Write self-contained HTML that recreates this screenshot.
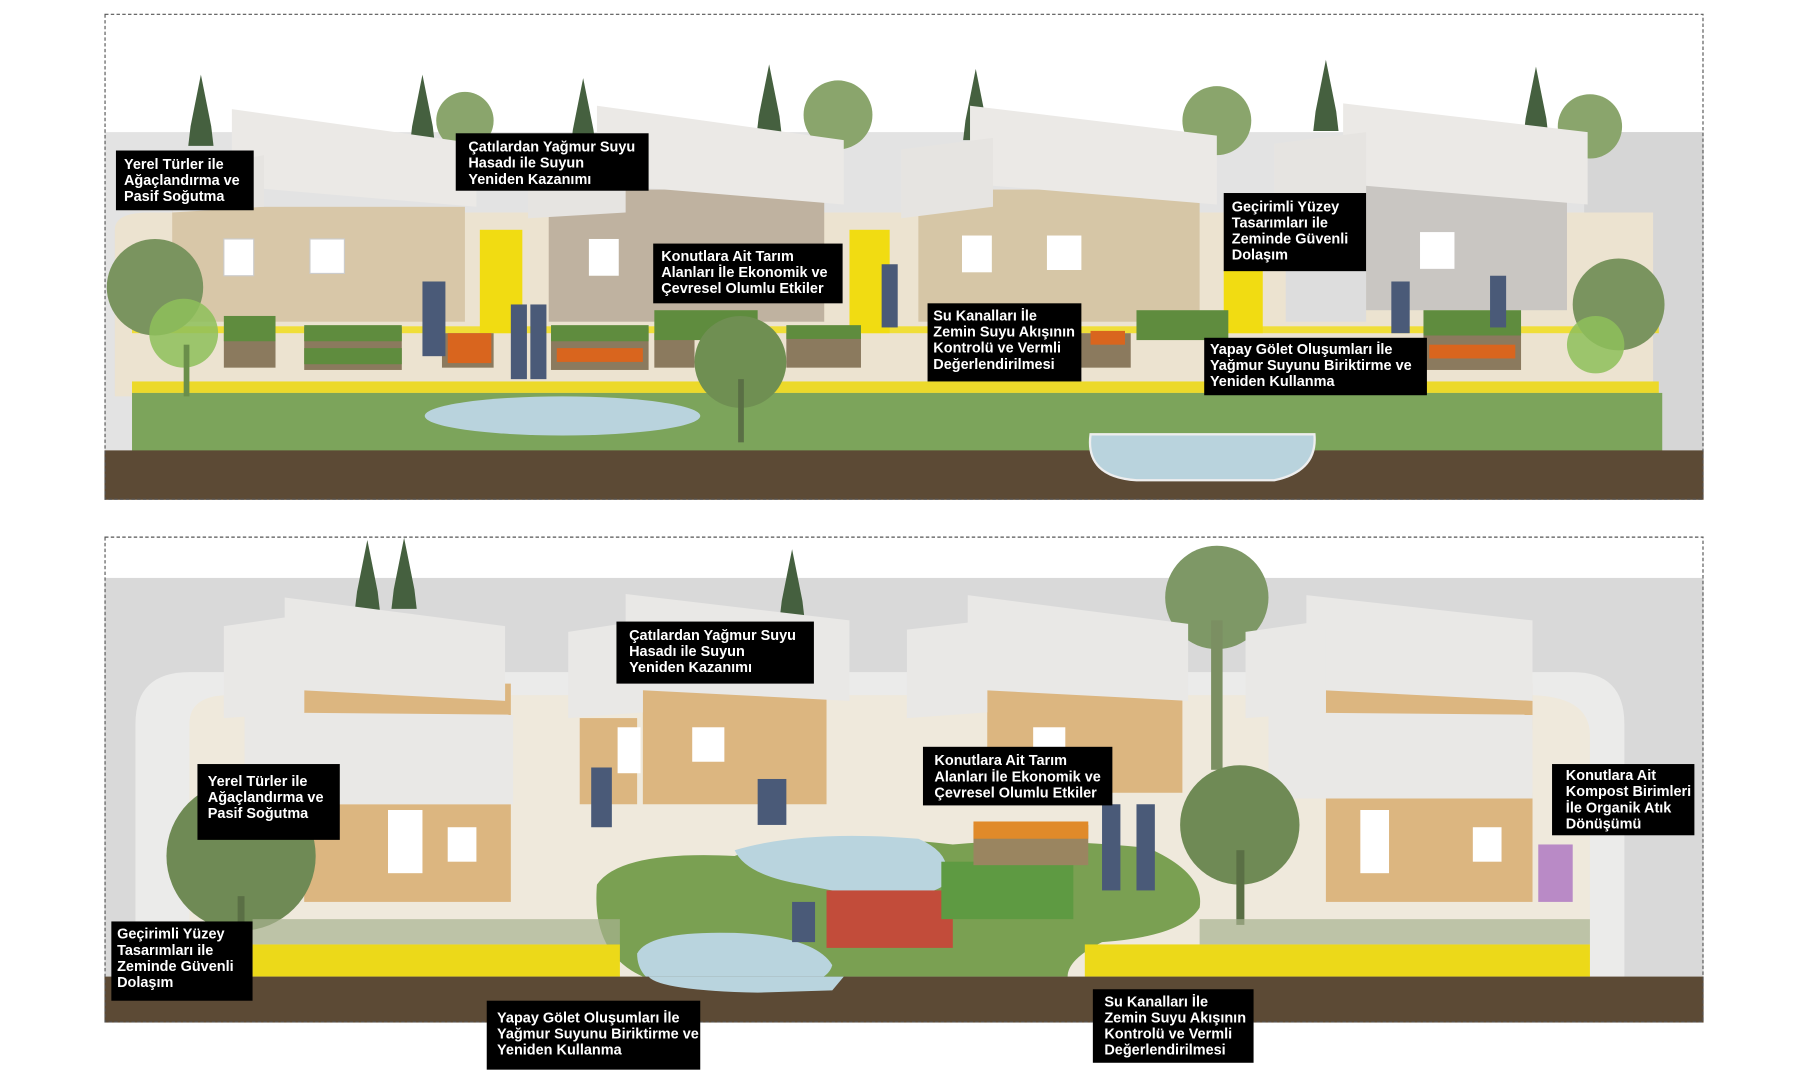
<!DOCTYPE html>
<html><head><meta charset="utf-8"><style>
html,body{margin:0;padding:0;background:#fff;width:1800px;height:1080px;overflow:hidden}
svg{display:block}
.lb{font-family:"Liberation Sans Narrow","Liberation Sans","DejaVu Sans Condensed",sans-serif;font-weight:bold;font-size:12.6px;fill:#fff}
</style></head><body>
<svg width="1800" height="1080" viewBox="0 0 1568 940" preserveAspectRatio="none" xmlns="http://www.w3.org/2000/svg">
<defs>
<g id="cyp"><path d="M0,0 L-9,45 L-11,62 L11,62 L9,45 Z" fill="#45603f"/></g>
</defs>
<!-- ===== TOP PANEL ===== -->
<rect x="91" y="12" width="1393" height="423" fill="#fff"/>
<rect x="91" y="115" width="1393" height="280" fill="#e3e3e3"/>
<rect x="1380" y="115" width="104" height="280" fill="#d6d6d6"/>
<!-- back trees -->
<circle cx="405" cy="105" r="25" fill="#8aa56c"/><circle cx="730" cy="100" r="30" fill="#8aa56c"/>
<circle cx="1060" cy="105" r="30" fill="#8aa56c"/><circle cx="1385" cy="110" r="28" fill="#8aa56c"/>
<use href="#cyp" x="175" y="65"/><use href="#cyp" x="368" y="65"/><use href="#cyp" x="508" y="68"/>
<use href="#cyp" x="670" y="56"/><use href="#cyp" x="850" y="60"/><use href="#cyp" x="1155" y="52"/><use href="#cyp" x="1338" y="58"/>
<!-- paving -->
<path d="M100,200 Q100,185 130,185 L1440,185 L1440,345 L100,345 Z" fill="#ece3d0"/>
<!-- houses walls -->
<rect x="150" y="180" width="255" height="100" fill="#d8c7a8"/>
<rect x="478" y="165" width="240" height="115" fill="#bfb2a0"/>
<rect x="800" y="165" width="245" height="115" fill="#d6c6a6"/>
<rect x="1190" y="160" width="175" height="110" fill="#c9c6c2"/>
<rect x="1120" y="200" width="70" height="80" fill="#ddd"/>
<!-- windows -->
<rect x="195" y="208" width="26" height="32" fill="#fff" stroke="#ccc"/><rect x="270" y="208" width="30" height="30" fill="#fff" stroke="#ccc"/>
<rect x="513" y="208" width="26" height="32" fill="#fff"/><rect x="838" y="205" width="26" height="32" fill="#fff"/>
<rect x="912" y="205" width="30" height="30" fill="#fff"/><rect x="1237" y="202" width="30" height="32" fill="#fff"/>
<!-- roofs -->
<path d="M202,95 L415,125 L415,180 L202,162 Z" fill="#ebe9e6"/>
<path d="M150,150 L230,135 L230,180 L150,185 Z" fill="#e6e4e1"/>
<path d="M520,92 L735,122 L735,178 L520,160 Z" fill="#ebe9e6"/>
<path d="M460,150 L545,140 L545,185 L460,190 Z" fill="#e6e4e1"/>
<path d="M845,92 L1060,118 L1060,178 L845,160 Z" fill="#ebe9e6"/>
<path d="M785,130 L865,120 L865,180 L785,190 Z" fill="#e6e4e1"/>
<path d="M1170,90 L1383,115 L1383,178 L1170,160 Z" fill="#ebe9e6"/>
<path d="M1110,125 L1190,115 L1190,175 L1110,185 Z" fill="#e6e4e1"/>
<!-- yellow strips -->
<rect x="418" y="200" width="37" height="90" fill="#f1dc12"/><rect x="740" y="200" width="35" height="90" fill="#f1dc12"/>
<rect x="1066" y="235" width="34" height="55" fill="#f1dc12"/>
<rect x="115" y="284" width="1330" height="6" fill="#f1dc12" opacity=".8"/>
<!-- beds -->
<g fill="#8b7a5e">
<rect x="195" y="290" width="45" height="30"/><rect x="265" y="285" width="85" height="37"/><rect x="385" y="290" width="45" height="30"/>
<rect x="480" y="285" width="85" height="37"/><rect x="570" y="290" width="35" height="30"/><rect x="685" y="290" width="65" height="30"/>
<rect x="940" y="290" width="45" height="30"/><rect x="1240" y="285" width="85" height="37"/>
</g>
<g fill="#5f8c3e">
<rect x="195" y="275" width="45" height="22"/><rect x="265" y="283" width="85" height="14"/><rect x="265" y="303" width="85" height="14"/>
<rect x="480" y="283" width="85" height="14"/><rect x="570" y="270" width="90" height="26"/><rect x="685" y="283" width="65" height="12"/>
<rect x="990" y="270" width="80" height="26"/><rect x="1240" y="270" width="85" height="22"/>
</g>
<g fill="#d9651e"><rect x="390" y="290" width="38" height="26"/><rect x="485" y="303" width="75" height="12"/><rect x="1245" y="300" width="75" height="12"/><rect x="950" y="288" width="30" height="12"/></g>
<!-- people -->
<g fill="#4a5a78"><rect x="368" y="245" width="20" height="65"/><rect x="445" y="265" width="14" height="65"/><rect x="462" y="265" width="14" height="65"/><rect x="768" y="230" width="14" height="55"/><rect x="1212" y="245" width="16" height="45"/><rect x="1298" y="240" width="14" height="45"/><rect x="895" y="355" width="20" height="28"/></g>
<!-- yellow bottom line & lawn -->
<rect x="115" y="332" width="1330" height="10" fill="#ecd92a"/>
<rect x="115" y="342" width="1333" height="52" fill="#7ca45b"/>
<ellipse cx="490" cy="362" rx="120" ry="17" fill="#b9d3dd"/>
<!-- trees -->
<circle cx="135" cy="250" r="42" fill="#7a945f"/><circle cx="160" cy="290" r="30" fill="#8ec05a" opacity=".85"/>
<rect x="160" y="300" width="5" height="45" fill="#6a8e4a"/>
<circle cx="645" cy="315" r="40" fill="#6f8f52"/><rect x="643" y="330" width="5" height="55" fill="#5a6f45"/>
<circle cx="1410" cy="265" r="40" fill="#7a945f"/><circle cx="1390" cy="300" r="25" fill="#8ec05a" opacity=".85"/>
<!-- ground -->
<rect x="91" y="392" width="1393" height="43" fill="#5c4a35"/>
<path d="M950,378 Q945,415 990,418 L1110,418 Q1148,410 1145,378 Z" fill="#b9d3dd" stroke="#eee" stroke-width="2"/>
<rect x="91.5" y="12.5" width="1392" height="422" fill="none" stroke="#555" stroke-dasharray="3,2"/>

<!-- ===== BOTTOM PANEL ===== -->
<rect x="91" y="467" width="1393" height="423" fill="#fff"/>
<rect x="91" y="503" width="1393" height="350" fill="#d9d9d9"/>
<use href="#cyp" x="320" y="470"/><use href="#cyp" x="352" y="468"/><use href="#cyp" x="690" y="478"/>
<path d="M118,850 L118,630 Q118,585 165,585 L1370,585 Q1415,585 1415,630 L1415,850 Z" fill="#ebebea"/>
<path d="M165,850 L165,630 Q165,605 200,605 L1330,605 Q1385,605 1385,640 L1385,850 Z" fill="#efe9dc"/>
<!-- big tree -->
<circle cx="1060" cy="520" r="45" fill="#7e9866"/><rect x="1055" y="540" width="10" height="130" fill="#7b8f62"/>
<!-- walls -->
<g fill="#dcb680">
<rect x="265" y="595" width="180" height="40"/><rect x="265" y="700" width="180" height="85"/>
<rect x="560" y="600" width="160" height="100"/><rect x="860" y="600" width="170" height="90"/>
<rect x="1155" y="595" width="180" height="40"/><rect x="1155" y="690" width="180" height="95"/>
</g>
<rect x="505" y="625" width="50" height="75" fill="#dcb680"/>
<g fill="#fff"><rect x="338" y="705" width="30" height="55"/><rect x="390" y="720" width="25" height="30"/><rect x="603" y="633" width="28" height="30"/><rect x="538" y="633" width="20" height="40"/><rect x="900" y="633" width="28" height="20"/><rect x="1185" y="705" width="25" height="55"/><rect x="1283" y="720" width="25" height="30"/></g>
<!-- roofs -->
<g fill="#e9e8e6">
<path d="M248,520 L440,545 L440,610 L248,600 Z"/><path d="M195,545 L265,535 L265,620 L195,625 Z"/>
<path d="M213,620 L447,622 L447,700 L213,700 Z"/>
<path d="M545,517 L740,540 L740,610 L545,600 Z"/><path d="M495,550 L560,540 L560,620 L495,625 Z"/>
<path d="M843,518 L1035,543 L1035,610 L843,600 Z"/><path d="M790,548 L860,540 L860,620 L790,625 Z"/>
<path d="M1138,518 L1335,540 L1335,610 L1138,600 Z"/><path d="M1085,550 L1155,540 L1155,620 L1085,625 Z"/>
<path d="M1105,620 L1335,622 L1335,695 L1105,695 Z"/>
</g>
<!-- central garden -->
<path d="M520,770 Q540,740 640,745 Q700,720 830,735 Q900,728 1000,738 Q1050,760 1045,790 Q1030,815 960,820 Q930,835 930,850 L740,850 Q640,855 560,850 Q515,830 520,770 Z" fill="#7aa052"/>
<path d="M640,740 Q700,722 800,730 Q835,745 820,772 Q790,790 700,770 Q650,762 640,740 Z" fill="#b9d4de"/>
<path d="M555,830 Q565,810 640,812 Q710,815 725,840 Q720,860 660,862 L580,860 Q555,852 555,830 Z" fill="#b9d4de"/>
<rect x="720" y="775" width="110" height="50" fill="#c24c3a"/><rect x="820" y="750" width="115" height="50" fill="#5e9a42"/>
<rect x="848" y="718" width="100" height="35" fill="#9a8560"/><rect x="848" y="715" width="100" height="15" fill="#e08a2a"/>
<g fill="#4a5a78"><rect x="515" y="668" width="18" height="52"/><rect x="660" y="678" width="25" height="40"/><rect x="960" y="700" width="16" height="75"/><rect x="990" y="700" width="16" height="75"/><rect x="690" y="785" width="20" height="35"/></g>
<rect x="1340" y="735" width="30" height="50" fill="#b98ac6"/>
<!-- trees -->
<circle cx="210" cy="745" r="65" fill="#6f8a55"/><rect x="207" y="780" width="6" height="50" fill="#5a6f45"/>
<circle cx="1080" cy="718" r="52" fill="#6f8a55"/><rect x="1077" y="740" width="7" height="65" fill="#5a6f45"/>
<!-- yellow -->
<rect x="220" y="822" width="320" height="28" fill="#ecd919"/>
<rect x="945" y="822" width="440" height="28" fill="#ecd919"/>
<rect x="220" y="800" width="320" height="22" fill="#a8b290" opacity=".7"/><rect x="1045" y="800" width="340" height="22" fill="#a8b290" opacity=".7"/>
<rect x="91" y="850" width="1393" height="40" fill="#5c4a35"/>
<path d="M565,850 Q575,862 660,864 L725,862 Q735,850 735,850 Z" fill="#b9d4de"/>
<rect x="91.5" y="467.5" width="1392" height="422" fill="none" stroke="#555" stroke-dasharray="3,2"/>

<!-- ===== LABELS ===== -->
<g>
<rect x="101" y="131" width="120" height="52" fill="#000"/>
<text class="lb" x="108" y="147">Yerel Türler ile</text><text class="lb" x="108" y="161">Ağaçlandırma ve</text><text class="lb" x="108" y="175">Pasif Soğutma</text>
<rect x="397" y="116" width="168" height="50" fill="#000"/>
<text class="lb" x="408" y="132">Çatılardan Yağmur Suyu</text><text class="lb" x="408" y="146">Hasadı ile Suyun</text><text class="lb" x="408" y="160">Yeniden Kazanımı</text>
<rect x="569" y="212" width="165" height="52" fill="#000"/>
<text class="lb" x="576" y="227">Konutlara Ait Tarım</text><text class="lb" x="576" y="241">Alanları İle Ekonomik ve</text><text class="lb" x="576" y="255">Çevresel Olumlu Etkiler</text>
<rect x="808" y="264" width="134" height="68" fill="#000"/>
<text class="lb" x="813" y="279">Su Kanalları İle</text><text class="lb" x="813" y="293">Zemin Suyu Akışının</text><text class="lb" x="813" y="307">Kontrolü ve Vermli</text><text class="lb" x="813" y="321">Değerlendirilmesi</text>
<rect x="1066" y="168" width="124" height="68" fill="#000"/>
<text class="lb" x="1073" y="184">Geçirimli Yüzey</text><text class="lb" x="1073" y="198">Tasarımları ile</text><text class="lb" x="1073" y="212">Zeminde Güvenli</text><text class="lb" x="1073" y="226">Dolaşım</text>
<rect x="1049" y="294" width="194" height="50" fill="#000"/>
<text class="lb" x="1054" y="308">Yapay Gölet Oluşumları İle</text><text class="lb" x="1054" y="322">Yağmur Suyunu Biriktirme ve</text><text class="lb" x="1054" y="336">Yeniden Kullanma</text>

<rect x="537" y="541" width="172" height="54" fill="#000"/>
<text class="lb" x="548" y="557">Çatılardan Yağmur Suyu</text><text class="lb" x="548" y="571">Hasadı ile Suyun</text><text class="lb" x="548" y="585">Yeniden Kazanımı</text>
<rect x="172" y="665" width="124" height="66" fill="#000"/>
<text class="lb" x="181" y="684">Yerel Türler ile</text><text class="lb" x="181" y="698">Ağaçlandırma ve</text><text class="lb" x="181" y="712">Pasif Soğutma</text>
<rect x="804" y="650" width="165" height="51" fill="#000"/>
<text class="lb" x="814" y="666">Konutlara Ait Tarım</text><text class="lb" x="814" y="680">Alanları İle Ekonomik ve</text><text class="lb" x="814" y="694">Çevresel Olumlu Etkiler</text>
<rect x="1352" y="665" width="124" height="62" fill="#000"/>
<text class="lb" x="1364" y="679">Konutlara Ait</text><text class="lb" x="1364" y="693">Kompost Birimleri</text><text class="lb" x="1364" y="707">İle Organik Atık</text><text class="lb" x="1364" y="721">Dönüşümü</text>
<rect x="97" y="802" width="123" height="69" fill="#000"/>
<text class="lb" x="102" y="817">Geçirimli Yüzey</text><text class="lb" x="102" y="831">Tasarımları ile</text><text class="lb" x="102" y="845">Zeminde Güvenli</text><text class="lb" x="102" y="859">Dolaşım</text>
<rect x="424" y="871" width="186" height="60" fill="#000"/>
<text class="lb" x="433" y="890">Yapay Gölet Oluşumları İle</text><text class="lb" x="433" y="904">Yağmur Suyunu Biriktirme ve</text><text class="lb" x="433" y="918">Yeniden Kullanma</text>
<rect x="952" y="861" width="140" height="64" fill="#000"/>
<text class="lb" x="962" y="876">Su Kanalları İle</text><text class="lb" x="962" y="890">Zemin Suyu Akışının</text><text class="lb" x="962" y="904">Kontrolü ve Vermli</text><text class="lb" x="962" y="918">Değerlendirilmesi</text>
</g>
</svg>
</body></html>
